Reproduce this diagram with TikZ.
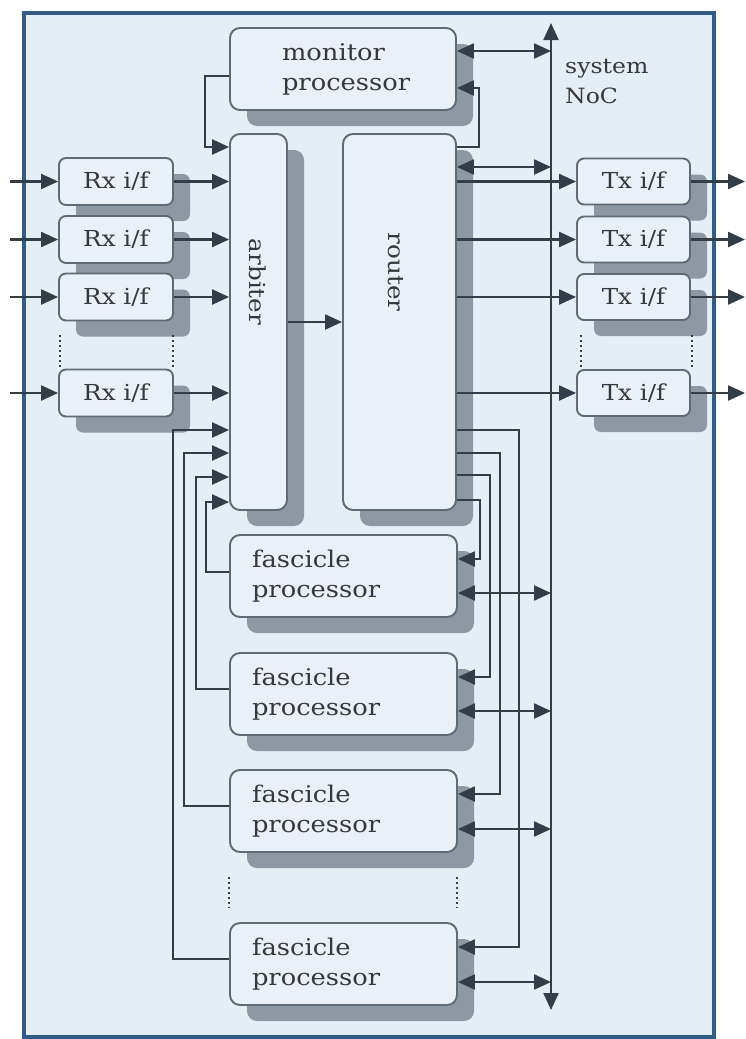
\documentclass[tikz,border=0pt]{standalone}
\usepackage{fontspec}
\setmainfont{DejaVu Serif}[FakeStretch=1.12]
\usetikzlibrary{arrows.meta,shadows}
\definecolor{bgc}{HTML}{E5EDF5}
\definecolor{boxfill}{HTML}{E9F0F7}
\definecolor{boxdraw}{HTML}{5F6A74}
\definecolor{shadowc}{HTML}{8E98A2}
\definecolor{linec}{HTML}{333D47}
\definecolor{framec}{HTML}{2F5D8A}
\definecolor{textc}{HTML}{383838}
\begin{document}
\begin{tikzpicture}[x=1pt,y=-1pt,
  box/.style={draw=boxdraw, line width=1.9pt, fill=boxfill, rounded corners=10pt,
    text=textc, inner sep=0pt,
    drop shadow={shadow xshift=17pt, shadow yshift=-16pt, opacity=1, fill=shadowc}},
  smallbox/.style={box, rounded corners=7pt, minimum width=114pt, minimum height=47pt,
    font=\fontsize{22}{26}\selectfont},
  fpbox/.style={box, minimum height=82pt, inner xsep=22pt, text width=183pt, align=left,
    font=\fontsize{23}{30}\selectfont},
  lbl/.style={text=textc, inner sep=0pt, font=\fontsize{22}{26}\selectfont},
  arr/.style={draw=linec, line width=2.3pt, -{Triangle[length=17pt,width=15pt]}},
  biarr/.style={draw=linec, line width=2.3pt, {Triangle[length=17pt,width=15pt]}-{Triangle[length=17pt,width=15pt]}},
  dotline/.style={draw=linec, line width=2.4pt, dash pattern=on 2.4pt off 2.6pt}]
\useasboundingbox (0,0) rectangle (746,1039);
\fill[white] (0,0) rectangle (746,1039);
\draw[draw=framec, line width=3.6pt, fill=bgc] (24,13) rectangle (714,1037);

% main blocks
\node[box, minimum width=226pt, minimum height=82pt, inner xsep=52pt, text width=122pt,
  align=left, font=\fontsize{23}{30}\selectfont] (monitor) at (343,69) {monitor\\processor};
\node[box, minimum width=57pt, minimum height=376pt] (arb) at (258.5,322) {};
\node[box, minimum width=113pt, minimum height=376pt] (router) at (399.5,322) {};
\node[lbl, rotate=-90] (arbtext) at (258,282) {arbiter};
\node[lbl, rotate=-90] (routertext) at (396,272) {router};

% Rx interfaces
\node[smallbox] (rx1) at (116,181.5) {Rx i/f};
\node[smallbox] (rx2) at (116,239.5) {Rx i/f};
\node[smallbox] (rx3) at (116,297) {Rx i/f};
\node[smallbox] (rx4) at (116,393) {Rx i/f};

% Tx interfaces
\node[smallbox, minimum width=113pt, minimum height=46pt] (tx1) at (633.5,181.5) {Tx i/f};
\node[smallbox, minimum width=113pt, minimum height=46pt] (tx2) at (633.5,239.5) {Tx i/f};
\node[smallbox, minimum width=113pt, minimum height=46pt] (tx3) at (633.5,297) {Tx i/f};
\node[smallbox, minimum width=113pt, minimum height=46pt] (tx4) at (633.5,393) {Tx i/f};

% fascicle processors
\node[fpbox] (fp1) at (343.5,576) {fascicle\\processor};
\node[fpbox] (fp2) at (343.5,694) {fascicle\\processor};
\node[fpbox] (fp3) at (343.5,811) {fascicle\\processor};
\node[fpbox] (fp4) at (343.5,964) {fascicle\\processor};

% system NoC
\coordinate (nocT) at (551,23);
\coordinate (nocB) at (551,1010);
\coordinate (noc) at (551,0);
\node[lbl, anchor=west, align=left, font=\fontsize{21}{30}\selectfont] (noclabel) at (565,82) {system\\NoC};

% inputs and outputs
\coordinate (in1) at (10,181.5);
\coordinate (in2) at (10,239.5);
\coordinate (in3) at (10,297);
\coordinate (in4) at (10,393);
\coordinate (out1) at (745,181.5);
\coordinate (out2) at (745,239.5);
\coordinate (out3) at (745,297);
\coordinate (out4) at (745,393);
\foreach \i in {1,2,3,4}{
  \draw[arr] (in\i) -- (rx\i.west);
  \draw[arr] (rx\i.east) -- (arb.west |- rx\i.east);
  \draw[arr] (router.east |- tx\i.west) -- (tx\i.west);
  \draw[arr] (tx\i.east) -- (out\i);
}

% monitor connections
\draw[biarr] (monitor.east |- 0,51) -- (noc |- 0,51);
\draw[arr] (router.east |- 0,147) -| (479,88) -- (monitor.east |- 0,88);
\draw[arr] (monitor.west |- 0,76) -| (205,147) -- (arb.west |- 0,147);
\draw[biarr] (router.east |- 0,167) -- (noc |- 0,167);
\draw[arr] (arb.east |- 0,322) -- (router.west |- 0,322);

% router to fascicle processors
\draw[arr] (router.east |- 0,500) -| (480,559) -- (fp1.east |- 0,559);
\draw[arr] (router.east |- 0,475) -| (490,677) -- (fp2.east |- 0,677);
\draw[arr] (router.east |- 0,453) -| (500,794) -- (fp3.east |- 0,794);
\draw[arr] (router.east |- 0,430) -| (519,947) -- (fp4.east |- 0,947);

% fascicle processors to arbiter
\draw[arr] (fp1.west |- 0,572) -| (206,502) -- (arb.west |- 0,502);
\draw[arr] (fp2.west |- 0,689) -| (196,477) -- (arb.west |- 0,477);
\draw[arr] (fp3.west |- 0,806) -| (184,453) -- (arb.west |- 0,453);
\draw[arr] (fp4.west |- 0,959) -| (173,430) -- (arb.west |- 0,430);

% fascicle processors to NoC
\draw[biarr] (fp1.east |- 0,593) -- (noc |- 0,593);
\draw[biarr] (fp2.east |- 0,711) -- (noc |- 0,711);
\draw[biarr] (fp3.east |- 0,829) -- (noc |- 0,829);
\draw[biarr] (fp4.east |- 0,982) -- (noc |- 0,982);

% NoC bus
\draw[biarr] (nocB) -- (nocT);

% ellipsis dots
\draw[dotline] (60,335) -- (60,367);
\draw[dotline] (173,335) -- (173,367);
\draw[dotline] (581,335) -- (581,367);
\draw[dotline] (692,335) -- (692,367);
\draw[dotline] (229,877) -- (229,908);
\draw[dotline] (457,877) -- (457,908);
\end{tikzpicture}
\end{document}
